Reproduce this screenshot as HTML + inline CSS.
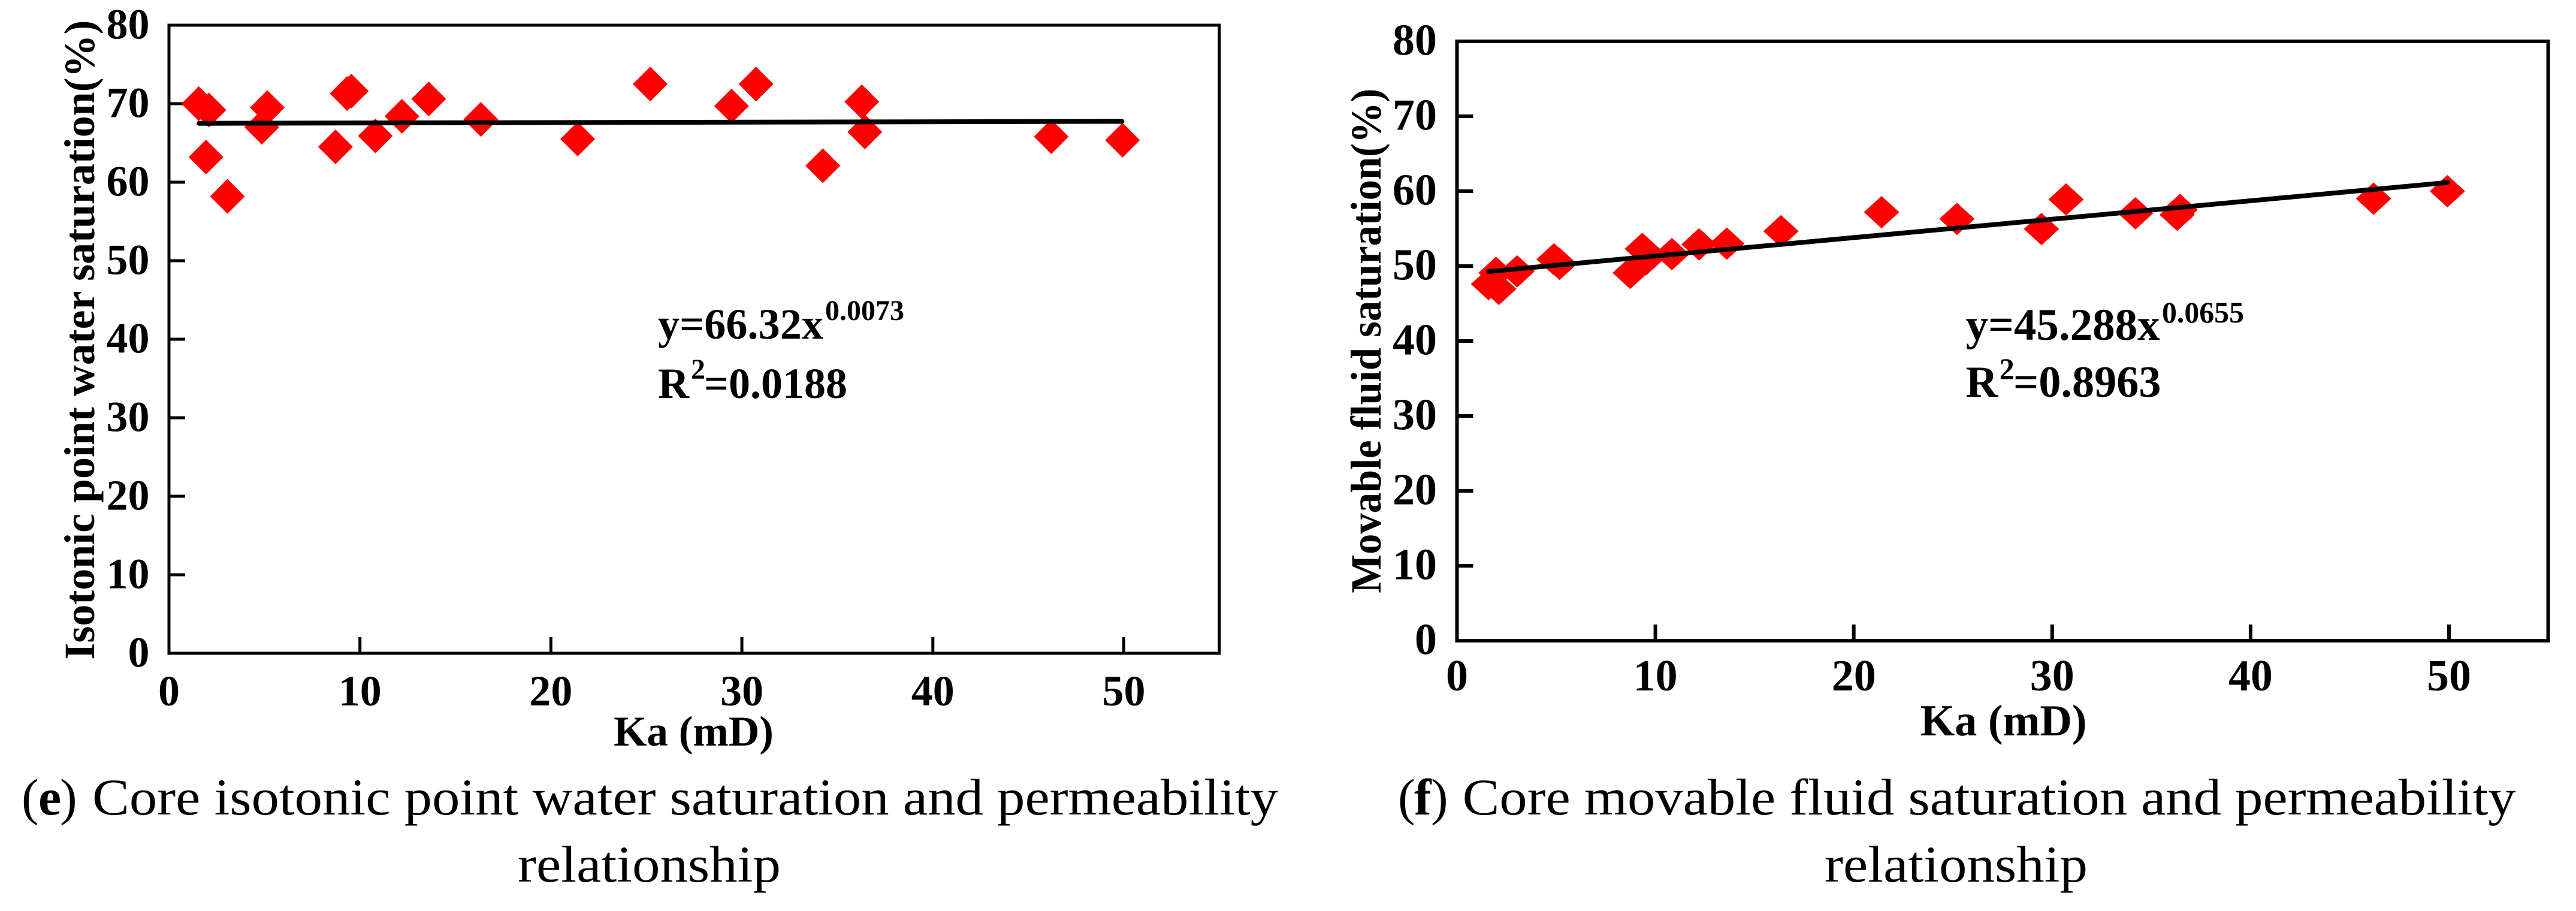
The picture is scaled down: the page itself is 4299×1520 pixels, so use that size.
<!DOCTYPE html>
<html lang="en">
<head>
<meta charset="utf-8">
<title>Core saturation and permeability relationships</title>
<style>
html,body{margin:0;padding:0;background:#fff;}
svg{display:block;}
text{font-family:"Liberation Serif","DejaVu Serif",serif;fill:#000;}
.b{font-weight:bold;}
</style>
</head>
<body>
<svg id="figure" xmlns="http://www.w3.org/2000/svg" width="4299" height="1520" viewBox="0 0 4299 1520">
  <rect x="0" y="0" width="4299" height="1520" fill="#fff"/>

  <g id="panel-e"></g>
  <g id="panel-f"></g>

  <g id="text-e">
    <text class="b" transform="translate(157,1100.6) rotate(-90)" font-size="72" textLength="1067" lengthAdjust="spacingAndGlyphs">Isotonic point water saturation(%)</text>
    <text class="b" x="1024" y="1244" font-size="71" textLength="267" lengthAdjust="spacingAndGlyphs">Ka (mD)</text>
    <text class="b" x="1098" y="565" font-size="72" textLength="276" lengthAdjust="spacingAndGlyphs">y=66.32x</text>
    <text class="b" x="1377" y="534" font-size="48" textLength="132" lengthAdjust="spacingAndGlyphs">0.0073</text>
    <text class="b" x="1098" y="664" font-size="72">R</text>
    <text class="b" x="1153" y="632" font-size="48">2</text>
    <text class="b" x="1175" y="664" font-size="72" textLength="239" lengthAdjust="spacingAndGlyphs">=0.0188</text>
  </g>

  <g id="text-f">
    <text class="b" transform="translate(2303.8,989.6) rotate(-90)" font-size="72" textLength="842" lengthAdjust="spacingAndGlyphs">Movable fluid saturation(%)</text>
    <text class="b" x="3204.6" y="1227" font-size="74" textLength="278" lengthAdjust="spacingAndGlyphs">Ka (mD)</text>
    <text class="b" x="3280.6" y="567" font-size="75" textLength="324" lengthAdjust="spacingAndGlyphs">y=45.288x</text>
    <text class="b" x="3608" y="538" font-size="50" textLength="137" lengthAdjust="spacingAndGlyphs">0.0655</text>
    <text class="b" x="3280.6" y="662" font-size="74">R</text>
    <text class="b" x="3336.7" y="632" font-size="50">2</text>
    <text class="b" x="3360" y="662" font-size="74" textLength="246.5" lengthAdjust="spacingAndGlyphs">=0.8963</text>
  </g>

  <g id="caption-e">
    <text x="36" y="1359" font-size="86">(</text>
    <text class="b" x="64" y="1359" font-size="86">e</text>
    <text x="100" y="1359" font-size="86">)</text>
    <text x="154" y="1359" font-size="86" textLength="1979" lengthAdjust="spacingAndGlyphs">Core isotonic point water saturation and permeability</text>
    <text x="864" y="1471" font-size="86" textLength="439" lengthAdjust="spacingAndGlyphs">relationship</text>
  </g>

  <g id="caption-f">
    <text x="2333" y="1359" font-size="86">(</text>
    <text class="b" x="2360" y="1359" font-size="86">f</text>
    <text x="2388" y="1359" font-size="86">)</text>
    <text x="2440.6" y="1359" font-size="86" textLength="1758" lengthAdjust="spacingAndGlyphs">Core movable fluid saturation and permeability</text>
    <text x="3045" y="1471" font-size="86" textLength="439" lengthAdjust="spacingAndGlyphs">relationship</text>
  </g>
</svg>

<script>
// Axis tick labels
const xTickValues = [0, 10, 20, 30, 40, 50];
const yTickValues = [0, 10, 20, 30, 40, 50, 60, 70, 80];

// Chart (e): isotonic point water saturation vs. permeability
const kaE = [1.56, 2.09, 1.94, 3.06, 4.86, 5.15, 8.72, 9.33, 9.55, 10.81, 12.2, 13.6, 16.33, 21.4, 25.2, 29.46, 30.74, 34.24, 36.28, 36.44, 46.2, 49.93];
const saturationE = [70.0, 69.2, 63.2, 58.2, 67.0, 69.5, 64.5, 71.3, 71.6, 65.9, 68.4, 70.6, 68.0, 65.5, 72.5, 69.7, 72.5, 62.1, 70.25, 66.4, 65.8, 65.35];
const trendKaE = [1.57, 49.9];
const trendSaturationE = [67.5, 67.75];

// Chart (f): movable fluid saturation vs. permeability
const kaF = [1.59, 1.97, 2.11, 3.03, 4.89, 5.17, 8.73, 9.34, 9.53, 10.83, 12.2, 13.6, 16.33, 21.4, 25.2, 29.46, 30.7, 34.2, 36.3, 36.44, 46.2, 49.92];
const saturationF = [47.6, 49.1, 46.95, 49.3, 50.9, 50.3, 49.1, 52.3, 50.9, 51.6, 52.9, 53.0, 54.66, 57.2, 56.3, 54.95, 58.9, 57.05, 56.85, 57.5, 59.0, 60.0];
const trendKaF = [1.59, 49.94];
const trendSaturationF = [49.28, 61.16];

const SVG_NS = 'http://www.w3.org/2000/svg';

function make(parent, tag, attrs, content) {
  const el = document.createElementNS(SVG_NS, tag);
  for (const key in attrs) {
    el.setAttribute(key, attrs[key]);
  }
  if (content !== undefined) {
    el.textContent = content;
  }
  parent.appendChild(el);
  return el;
}

function drawPanel(parent, cfg, xs, ys, trendX, trendY) {
  const scaleX = function (v) { return cfg.x0 + v * cfg.xUnit; };
  const scaleY = function (v) { return cfg.y0 - v * cfg.yUnit; };
  const xMax = 55;
  const yMax = 80;

  const frame = make(parent, 'rect', {
    x: scaleX(0), y: scaleY(yMax),
    width: scaleX(xMax) - scaleX(0), height: scaleY(0) - scaleY(yMax),
    fill: 'none', stroke: '#000', 'stroke-width': cfg.spine
  });
  
  

  xTickValues.forEach(function (v) {
    if (v > 0) {
      const tick = make(parent, 'line', {
        x1: scaleX(v), x2: scaleX(v),
        y1: scaleY(0), y2: scaleY(0) - cfg.tick,
        stroke: '#000', 'stroke-width': cfg.spine
      });
      
      
    }
    const label = make(parent, 'text', {
      x: scaleX(v), y: cfg.xLabelBase, 'text-anchor': 'middle',
      'font-size': cfg.xLabelSize, 'font-weight': 'bold'
    }, String(v));
    
    
  });

  yTickValues.forEach(function (v) {
    if (v > 0 && v < yMax) {
      const tick = make(parent, 'line', {
        x1: scaleX(0), x2: scaleX(0) + cfg.tick,
        y1: scaleY(v), y2: scaleY(v),
        stroke: '#000', 'stroke-width': cfg.spine
      });
      
      
    }
    const label = make(parent, 'text', {
      x: cfg.yLabelRight, y: scaleY(v) + cfg.yLabelShift, 'text-anchor': 'end',
      'font-size': cfg.yLabelSize, 'font-weight': 'bold'
    }, String(v));
    
    
  });

  xs.forEach(function (v, i) {
    const cx = scaleX(v);
    const cy = scaleY(ys[i]);
    const pts = [
      cx + ',' + (cy - cfg.markH),
      (cx + cfg.markW) + ',' + cy,
      cx + ',' + (cy + cfg.markH),
      (cx - cfg.markW) + ',' + cy
    ].join(' ');
    const point = make(parent, 'polygon', { points: pts, fill: '#ff0000' });
    
    
  });

  const trend = make(parent, 'line', {
    x1: scaleX(trendX[0]), y1: scaleY(trendY[0]),
    x2: scaleX(trendX[1]), y2: scaleY(trendY[1]),
    stroke: '#000', 'stroke-width': cfg.trendWidth, 'stroke-linecap': 'round'
  });
  
  
}

drawPanel(document.getElementById('panel-e'), {
  x0: 282, xUnit: 31.87, y0: 1090, yUnit: 13.1,
  spine: 5, tick: 27,
  xLabelBase: 1177, xLabelSize: 72,
  yLabelRight: 249.5, yLabelShift: 22.5, yLabelSize: 72,
  markW: 29, markH: 29, trendWidth: 8
}, kaE, saturationE, trendKaE, trendSaturationE);

drawPanel(document.getElementById('panel-f'), {
  x0: 2431.5, xUnit: 33.11, y0: 1069, yUnit: 12.5,
  spine: 6, tick: 27,
  xLabelBase: 1152, xLabelSize: 74,
  yLabelRight: 2398, yLabelShift: 22.5, yLabelSize: 74,
  markW: 29.5, markH: 27, trendWidth: 8
}, kaF, saturationF, trendKaF, trendSaturationF);
</script>
</body>
</html>
